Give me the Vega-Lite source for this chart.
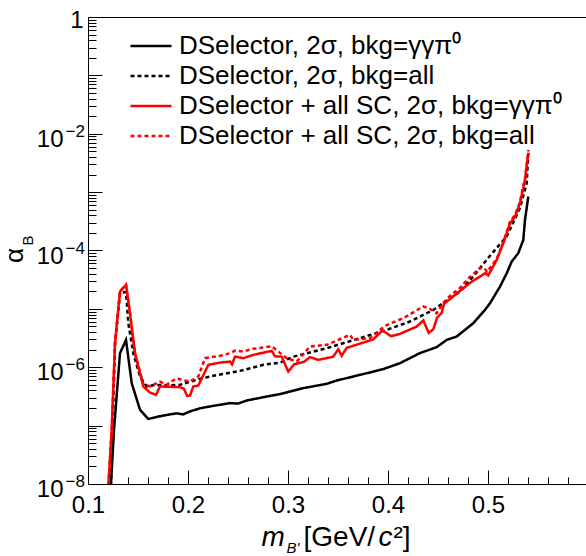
{
  "$schema": "https://vega.github.io/schema/vega-lite/v6.json",
  "width": 498,
  "height": 467,
  "autosize": {"type": "none"},
  "padding": {"left": 88, "top": 17, "right": 0, "bottom": 72},
  "background": "white",
  "config": {
    "view": {"stroke": null},
    "font": "Liberation Sans",
    "axis": {"labelFont": "Liberation Sans", "titleFont": "Liberation Sans", "labelColor": "black", "titleColor": "black", "domainColor": "black", "tickColor": "black", "grid": false, "domainWidth": 1, "tickWidth": 1, "titleFontWeight": "normal", "labelFlush": false, "labelOverlap": false}
  },
  "data": {"values": [
    {"s": "DSelector, 2σ, bkg=γγπ⁰", "m": 0.1215, "a": 3.6e-9},
    {"s": "DSelector, 2σ, bkg=γγπ⁰", "m": 0.126, "a": 8.5e-8},
    {"s": "DSelector, 2σ, bkg=γγπ⁰", "m": 0.132, "a": 1.74e-6},
    {"s": "DSelector, 2σ, bkg=γγπ⁰", "m": 0.138, "a": 2.94e-6},
    {"s": "DSelector, 2σ, bkg=γγπ⁰", "m": 0.1437, "a": 5.35e-7},
    {"s": "DSelector, 2σ, bkg=γγπ⁰", "m": 0.152, "a": 1.87e-7},
    {"s": "DSelector, 2σ, bkg=γγπ⁰", "m": 0.1603, "a": 1.3e-7},
    {"s": "DSelector, 2σ, bkg=γγπ⁰", "m": 0.1703, "a": 1.43e-7},
    {"s": "DSelector, 2σ, bkg=γγπ⁰", "m": 0.182, "a": 1.56e-7},
    {"s": "DSelector, 2σ, bkg=γγπ⁰", "m": 0.1887, "a": 1.62e-7},
    {"s": "DSelector, 2σ, bkg=γγπ⁰", "m": 0.1953, "a": 1.56e-7},
    {"s": "DSelector, 2σ, bkg=γγπ⁰", "m": 0.202, "a": 1.75e-7},
    {"s": "DSelector, 2σ, bkg=γγπ⁰", "m": 0.212, "a": 1.98e-7},
    {"s": "DSelector, 2σ, bkg=γγπ⁰", "m": 0.2253, "a": 2.18e-7},
    {"s": "DSelector, 2σ, bkg=γγπ⁰", "m": 0.242, "a": 2.43e-7},
    {"s": "DSelector, 2σ, bkg=γγπ⁰", "m": 0.25, "a": 2.38e-7},
    {"s": "DSelector, 2σ, bkg=γγπ⁰", "m": 0.2587, "a": 2.69e-7},
    {"s": "DSelector, 2σ, bkg=γγπ⁰", "m": 0.2787, "a": 3.15e-7},
    {"s": "DSelector, 2σ, bkg=γγπ⁰", "m": 0.292, "a": 3.47e-7},
    {"s": "DSelector, 2σ, bkg=γγπ⁰", "m": 0.3153, "a": 4.39e-7},
    {"s": "DSelector, 2σ, bkg=γγπ⁰", "m": 0.3387, "a": 5.2e-7},
    {"s": "DSelector, 2σ, bkg=γγπ⁰", "m": 0.3487, "a": 5.92e-7},
    {"s": "DSelector, 2σ, bkg=γγπ⁰", "m": 0.372, "a": 7.41e-7},
    {"s": "DSelector, 2σ, bkg=γγπ⁰", "m": 0.3953, "a": 9.29e-7},
    {"s": "DSelector, 2σ, bkg=γγπ⁰", "m": 0.412, "a": 1.175e-6},
    {"s": "DSelector, 2σ, bkg=γγπ⁰", "m": 0.432, "a": 1.75e-6},
    {"s": "DSelector, 2σ, bkg=γγπ⁰", "m": 0.4487, "a": 2.21e-6},
    {"s": "DSelector, 2σ, bkg=γγπ⁰", "m": 0.4587, "a": 2.94e-6},
    {"s": "DSelector, 2σ, bkg=γγπ⁰", "m": 0.4687, "a": 3.36e-6},
    {"s": "DSelector, 2σ, bkg=γγπ⁰", "m": 0.4853, "a": 5.69e-6},
    {"s": "DSelector, 2σ, bkg=γγπ⁰", "m": 0.497, "a": 9.6e-6},
    {"s": "DSelector, 2σ, bkg=γγπ⁰", "m": 0.502, "a": 1.25e-5},
    {"s": "DSelector, 2σ, bkg=γγπ⁰", "m": 0.512, "a": 2.41e-5},
    {"s": "DSelector, 2σ, bkg=γγπ⁰", "m": 0.5187, "a": 4.08e-5},
    {"s": "DSelector, 2σ, bkg=γγπ⁰", "m": 0.5237, "a": 6.45e-5},
    {"s": "DSelector, 2σ, bkg=γγπ⁰", "m": 0.5303, "a": 9.0e-5},
    {"s": "DSelector, 2σ, bkg=γγπ⁰", "m": 0.5353, "a": 1.52e-4},
    {"s": "DSelector, 2σ, bkg=γγπ⁰", "m": 0.537, "a": 3.34e-4},
    {"s": "DSelector, 2σ, bkg=γγπ⁰", "m": 0.5403, "a": 8.4e-4},

    {"s": "DSelector, 2σ, bkg=all", "m": 0.1225, "a": 5.4e-9},
    {"s": "DSelector, 2σ, bkg=all", "m": 0.127, "a": 2.42e-6},
    {"s": "DSelector, 2σ, bkg=all", "m": 0.132, "a": 1.88e-5},
    {"s": "DSelector, 2σ, bkg=all", "m": 0.138, "a": 1.95e-5},
    {"s": "DSelector, 2σ, bkg=all", "m": 0.1403, "a": 5.69e-6},
    {"s": "DSelector, 2σ, bkg=all", "m": 0.1453, "a": 1.74e-6},
    {"s": "DSelector, 2σ, bkg=all", "m": 0.152, "a": 6.93e-7},
    {"s": "DSelector, 2σ, bkg=all", "m": 0.1587, "a": 4.68e-7},
    {"s": "DSelector, 2σ, bkg=all", "m": 0.167, "a": 5.0e-7},
    {"s": "DSelector, 2σ, bkg=all", "m": 0.18, "a": 4.9e-7},
    {"s": "DSelector, 2σ, bkg=all", "m": 0.192, "a": 5.0e-7},
    {"s": "DSelector, 2σ, bkg=all", "m": 0.202, "a": 5.62e-7},
    {"s": "DSelector, 2σ, bkg=all", "m": 0.212, "a": 6.33e-7},
    {"s": "DSelector, 2σ, bkg=all", "m": 0.2253, "a": 7.13e-7},
    {"s": "DSelector, 2σ, bkg=all", "m": 0.252, "a": 8.67e-7},
    {"s": "DSelector, 2σ, bkg=all", "m": 0.2753, "a": 1.1e-6},
    {"s": "DSelector, 2σ, bkg=all", "m": 0.292, "a": 1.2e-6},
    {"s": "DSelector, 2σ, bkg=all", "m": 0.3053, "a": 1.52e-6},
    {"s": "DSelector, 2σ, bkg=all", "m": 0.3387, "a": 2.12e-6},
    {"s": "DSelector, 2σ, bkg=all", "m": 0.372, "a": 3.15e-6},
    {"s": "DSelector, 2σ, bkg=all", "m": 0.3987, "a": 4.37e-6},
    {"s": "DSelector, 2σ, bkg=all", "m": 0.422, "a": 6.07e-6},
    {"s": "DSelector, 2σ, bkg=all", "m": 0.4453, "a": 9.6e-6},
    {"s": "DSelector, 2σ, bkg=all", "m": 0.472, "a": 1.98e-5},
    {"s": "DSelector, 2σ, bkg=all", "m": 0.4853, "a": 3.6e-5},
    {"s": "DSelector, 2σ, bkg=all", "m": 0.495, "a": 5.8e-5},
    {"s": "DSelector, 2σ, bkg=all", "m": 0.5053, "a": 9.5e-5},
    {"s": "DSelector, 2σ, bkg=all", "m": 0.5187, "a": 1.73e-4},
    {"s": "DSelector, 2σ, bkg=all", "m": 0.532, "a": 5.36e-4},
    {"s": "DSelector, 2σ, bkg=all", "m": 0.5387, "a": 1.42e-3},
    {"s": "DSelector, 2σ, bkg=all", "m": 0.5405, "a": 5.3e-3},

    {"s": "DSelector + all SC, 2σ, bkg=γγπ⁰", "m": 0.1195, "a": 5.4e-9},
    {"s": "DSelector + all SC, 2σ, bkg=γγπ⁰", "m": 0.1237, "a": 8.5e-8},
    {"s": "DSelector + all SC, 2σ, bkg=γγπ⁰", "m": 0.127, "a": 2.59e-6},
    {"s": "DSelector + all SC, 2σ, bkg=γγπ⁰", "m": 0.132, "a": 1.98e-5},
    {"s": "DSelector + all SC, 2σ, bkg=γγπ⁰", "m": 0.138, "a": 2.58e-5},
    {"s": "DSelector + all SC, 2σ, bkg=γγπ⁰", "m": 0.142, "a": 8.4e-6},
    {"s": "DSelector + all SC, 2σ, bkg=γγπ⁰", "m": 0.147, "a": 1.74e-6},
    {"s": "DSelector + all SC, 2σ, bkg=γγπ⁰", "m": 0.1553, "a": 4.68e-7},
    {"s": "DSelector + all SC, 2σ, bkg=γγπ⁰", "m": 0.162, "a": 3.69e-7},
    {"s": "DSelector + all SC, 2σ, bkg=γγπ⁰", "m": 0.168, "a": 3.37e-7},
    {"s": "DSelector + all SC, 2σ, bkg=γγπ⁰", "m": 0.172, "a": 4.68e-7},
    {"s": "DSelector + all SC, 2σ, bkg=γγπ⁰", "m": 0.192, "a": 4.56e-7},
    {"s": "DSelector + all SC, 2σ, bkg=γγπ⁰", "m": 0.196, "a": 4.27e-7},
    {"s": "DSelector + all SC, 2σ, bkg=γγπ⁰", "m": 0.199, "a": 3.24e-7},
    {"s": "DSelector + all SC, 2σ, bkg=γγπ⁰", "m": 0.202, "a": 3.27e-7},
    {"s": "DSelector + all SC, 2σ, bkg=γγπ⁰", "m": 0.2053, "a": 4.68e-7},
    {"s": "DSelector + all SC, 2σ, bkg=γγπ⁰", "m": 0.2103, "a": 4.86e-7},
    {"s": "DSelector + all SC, 2σ, bkg=γγπ⁰", "m": 0.2203, "a": 1.1e-6},
    {"s": "DSelector + all SC, 2σ, bkg=γγπ⁰", "m": 0.232, "a": 1.2e-6},
    {"s": "DSelector + all SC, 2σ, bkg=γγπ⁰", "m": 0.242, "a": 1.25e-6},
    {"s": "DSelector + all SC, 2σ, bkg=γγπ⁰", "m": 0.244, "a": 1.12e-6},
    {"s": "DSelector + all SC, 2σ, bkg=γγπ⁰", "m": 0.247, "a": 1.52e-6},
    {"s": "DSelector + all SC, 2σ, bkg=γγπ⁰", "m": 0.2553, "a": 1.43e-6},
    {"s": "DSelector + all SC, 2σ, bkg=γγπ⁰", "m": 0.2653, "a": 1.63e-6},
    {"s": "DSelector + all SC, 2σ, bkg=γγπ⁰", "m": 0.2837, "a": 1.91e-6},
    {"s": "DSelector + all SC, 2σ, bkg=γγπ⁰", "m": 0.287, "a": 1.54e-6},
    {"s": "DSelector + all SC, 2σ, bkg=γγπ⁰", "m": 0.2937, "a": 1.52e-6},
    {"s": "DSelector + all SC, 2σ, bkg=γγπ⁰", "m": 0.3003, "a": 8.4e-7},
    {"s": "DSelector + all SC, 2σ, bkg=γγπ⁰", "m": 0.306, "a": 1.12e-6},
    {"s": "DSelector + all SC, 2σ, bkg=γγπ⁰", "m": 0.316, "a": 1.24e-6},
    {"s": "DSelector + all SC, 2σ, bkg=γγπ⁰", "m": 0.322, "a": 1.49e-6},
    {"s": "DSelector + all SC, 2σ, bkg=γγπ⁰", "m": 0.3303, "a": 1.34e-6},
    {"s": "DSelector + all SC, 2σ, bkg=γγπ⁰", "m": 0.345, "a": 1.51e-6},
    {"s": "DSelector + all SC, 2σ, bkg=γγπ⁰", "m": 0.3503, "a": 2.03e-6},
    {"s": "DSelector + all SC, 2σ, bkg=γγπ⁰", "m": 0.3537, "a": 1.57e-6},
    {"s": "DSelector + all SC, 2σ, bkg=γγπ⁰", "m": 0.3587, "a": 2.15e-6},
    {"s": "DSelector + all SC, 2σ, bkg=γγπ⁰", "m": 0.3853, "a": 3.0e-6},
    {"s": "DSelector + all SC, 2σ, bkg=γγπ⁰", "m": 0.3945, "a": 4.28e-6},
    {"s": "DSelector + all SC, 2σ, bkg=γγπ⁰", "m": 0.403, "a": 3.41e-6},
    {"s": "DSelector + all SC, 2σ, bkg=γγπ⁰", "m": 0.412, "a": 3.73e-6},
    {"s": "DSelector + all SC, 2σ, bkg=γγπ⁰", "m": 0.4287, "a": 4.98e-6},
    {"s": "DSelector + all SC, 2σ, bkg=γγπ⁰", "m": 0.4353, "a": 6.35e-6},
    {"s": "DSelector + all SC, 2σ, bkg=γγπ⁰", "m": 0.4407, "a": 3.88e-6},
    {"s": "DSelector + all SC, 2σ, bkg=γγπ⁰", "m": 0.4453, "a": 4.46e-6},
    {"s": "DSelector + all SC, 2σ, bkg=γγπ⁰", "m": 0.449, "a": 7.0e-6},
    {"s": "DSelector + all SC, 2σ, bkg=γγπ⁰", "m": 0.4537, "a": 8.55e-6},
    {"s": "DSelector + all SC, 2σ, bkg=γγπ⁰", "m": 0.456, "a": 1.22e-5},
    {"s": "DSelector + all SC, 2σ, bkg=γγπ⁰", "m": 0.472, "a": 2.03e-5},
    {"s": "DSelector + all SC, 2σ, bkg=γγπ⁰", "m": 0.4837, "a": 2.93e-5},
    {"s": "DSelector + all SC, 2σ, bkg=γγπ⁰", "m": 0.492, "a": 3.57e-5},
    {"s": "DSelector + all SC, 2σ, bkg=γγπ⁰", "m": 0.497, "a": 4.08e-5},
    {"s": "DSelector + all SC, 2σ, bkg=γγπ⁰", "m": 0.5003, "a": 3.75e-5},
    {"s": "DSelector + all SC, 2σ, bkg=γγπ⁰", "m": 0.5087, "a": 6.9e-5},
    {"s": "DSelector + all SC, 2σ, bkg=γγπ⁰", "m": 0.5153, "a": 1.33e-4},
    {"s": "DSelector + all SC, 2σ, bkg=γγπ⁰", "m": 0.522, "a": 2.93e-4},
    {"s": "DSelector + all SC, 2σ, bkg=γγπ⁰", "m": 0.527, "a": 3.8e-4},
    {"s": "DSelector + all SC, 2σ, bkg=γγπ⁰", "m": 0.532, "a": 6.45e-4},
    {"s": "DSelector + all SC, 2σ, bkg=γγπ⁰", "m": 0.537, "a": 1.62e-3},
    {"s": "DSelector + all SC, 2σ, bkg=γγπ⁰", "m": 0.5403, "a": 4.64e-3},

    {"s": "DSelector + all SC, 2σ, bkg=all", "m": 0.1195, "a": 5.4e-9},
    {"s": "DSelector + all SC, 2σ, bkg=all", "m": 0.1237, "a": 8.5e-8},
    {"s": "DSelector + all SC, 2σ, bkg=all", "m": 0.127, "a": 2.59e-6},
    {"s": "DSelector + all SC, 2σ, bkg=all", "m": 0.132, "a": 1.98e-5},
    {"s": "DSelector + all SC, 2σ, bkg=all", "m": 0.138, "a": 2.58e-5},
    {"s": "DSelector + all SC, 2σ, bkg=all", "m": 0.142, "a": 8.4e-6},
    {"s": "DSelector + all SC, 2σ, bkg=all", "m": 0.147, "a": 1.74e-6},
    {"s": "DSelector + all SC, 2σ, bkg=all", "m": 0.1553, "a": 5.2e-7},
    {"s": "DSelector + all SC, 2σ, bkg=all", "m": 0.162, "a": 4.68e-7},
    {"s": "DSelector + all SC, 2σ, bkg=all", "m": 0.172, "a": 5.69e-7},
    {"s": "DSelector + all SC, 2σ, bkg=all", "m": 0.1787, "a": 5.0e-7},
    {"s": "DSelector + all SC, 2σ, bkg=all", "m": 0.1887, "a": 6.5e-7},
    {"s": "DSelector + all SC, 2σ, bkg=all", "m": 0.1937, "a": 6.08e-7},
    {"s": "DSelector + all SC, 2σ, bkg=all", "m": 0.202, "a": 5.69e-7},
    {"s": "DSelector + all SC, 2σ, bkg=all", "m": 0.2103, "a": 6.93e-7},
    {"s": "DSelector + all SC, 2σ, bkg=all", "m": 0.217, "a": 1.43e-6},
    {"s": "DSelector + all SC, 2σ, bkg=all", "m": 0.232, "a": 1.57e-6},
    {"s": "DSelector + all SC, 2σ, bkg=all", "m": 0.242, "a": 1.74e-6},
    {"s": "DSelector + all SC, 2σ, bkg=all", "m": 0.247, "a": 1.93e-6},
    {"s": "DSelector + all SC, 2σ, bkg=all", "m": 0.2553, "a": 1.86e-6},
    {"s": "DSelector + all SC, 2σ, bkg=all", "m": 0.2653, "a": 2.07e-6},
    {"s": "DSelector + all SC, 2σ, bkg=all", "m": 0.2837, "a": 2.28e-6},
    {"s": "DSelector + all SC, 2σ, bkg=all", "m": 0.2903, "a": 1.86e-6},
    {"s": "DSelector + all SC, 2σ, bkg=all", "m": 0.2987, "a": 1.43e-6},
    {"s": "DSelector + all SC, 2σ, bkg=all", "m": 0.3087, "a": 1.25e-6},
    {"s": "DSelector + all SC, 2σ, bkg=all", "m": 0.322, "a": 2.26e-6},
    {"s": "DSelector + all SC, 2σ, bkg=all", "m": 0.3387, "a": 2.42e-6},
    {"s": "DSelector + all SC, 2σ, bkg=all", "m": 0.362, "a": 3.59e-6},
    {"s": "DSelector + all SC, 2σ, bkg=all", "m": 0.3653, "a": 2.94e-6},
    {"s": "DSelector + all SC, 2σ, bkg=all", "m": 0.382, "a": 3.15e-6},
    {"s": "DSelector + all SC, 2σ, bkg=all", "m": 0.397, "a": 5.12e-6},
    {"s": "DSelector + all SC, 2σ, bkg=all", "m": 0.4153, "a": 6.93e-6},
    {"s": "DSelector + all SC, 2σ, bkg=all", "m": 0.4353, "a": 1.1e-5},
    {"s": "DSelector + all SC, 2σ, bkg=all", "m": 0.442, "a": 1.0e-5},
    {"s": "DSelector + all SC, 2σ, bkg=all", "m": 0.4487, "a": 8.4e-6},
    {"s": "DSelector + all SC, 2σ, bkg=all", "m": 0.4553, "a": 1.27e-5},
    {"s": "DSelector + all SC, 2σ, bkg=all", "m": 0.462, "a": 1.67e-5},
    {"s": "DSelector + all SC, 2σ, bkg=all", "m": 0.472, "a": 2.29e-5},
    {"s": "DSelector + all SC, 2σ, bkg=all", "m": 0.482, "a": 3.53e-5},
    {"s": "DSelector + all SC, 2σ, bkg=all", "m": 0.492, "a": 4.98e-5},
    {"s": "DSelector + all SC, 2σ, bkg=all", "m": 0.496, "a": 5.1e-5},
    {"s": "DSelector + all SC, 2σ, bkg=all", "m": 0.499, "a": 4.3e-5},
    {"s": "DSelector + all SC, 2σ, bkg=all", "m": 0.5087, "a": 7.18e-5},
    {"s": "DSelector + all SC, 2σ, bkg=all", "m": 0.5153, "a": 1.4e-4},
    {"s": "DSelector + all SC, 2σ, bkg=all", "m": 0.522, "a": 3.09e-4},
    {"s": "DSelector + all SC, 2σ, bkg=all", "m": 0.527, "a": 4.07e-4},
    {"s": "DSelector + all SC, 2σ, bkg=all", "m": 0.532, "a": 6.8e-4},
    {"s": "DSelector + all SC, 2σ, bkg=all", "m": 0.537, "a": 1.75e-3},
    {"s": "DSelector + all SC, 2σ, bkg=all", "m": 0.5405, "a": 5.28e-3}
  ]},
  "layer": [
    {
      "mark": {"type": "line", "strokeWidth": 2.5, "clip": true},
      "encoding": {
        "x": {"field": "m", "type": "quantitative", "scale": {"domain": [0.1, 0.598], "nice": false, "zero": false},
          "axis": {"orient": "bottom", "values": [0.1, 0.2, 0.3, 0.4, 0.5], "format": ".1f", "tickSize": -14, "labelFontSize": 24, "labelPadding": 23,
            "title": "m", "titleFontSize": 28, "titleFontStyle": "italic", "titleX": 173, "titleY": 61, "titleAlign": "left", "titleBaseline": "alphabetic", "titleAngle": 0}},
        "y": {"field": "a", "type": "quantitative", "scale": {"type": "log", "domain": [1e-8, 1], "nice": false},
          "axis": {"orient": "left", "values": [1e-8, 1e-7, 1e-6, 1e-5, 1e-4, 1e-3, 1e-2, 1e-1, 1], "tickSize": -14,
            "labelExpr": "datum.value < 0.5 && round(log(datum.value)/LN10) % 2 == 0 ? '10' : ''",
            "labelFontSize": 24, "labelPadding": 39, "labelOffset": 5.5, "labelAlign": "right", "labelBaseline": "middle",
            "title": "α", "titleFontSize": 26, "titleAngle": -90, "titleX": -66, "titleY": 238, "titleAlign": "center", "titleBaseline": "alphabetic"}},
        "color": {"field": "s", "type": "nominal",
          "scale": {"domain": ["DSelector, 2σ, bkg=γγπ⁰", "DSelector, 2σ, bkg=all", "DSelector + all SC, 2σ, bkg=γγπ⁰", "DSelector + all SC, 2σ, bkg=all"], "range": ["#000000", "#000000", "#ff0000", "#ff0000"]},
          "legend": {"orient": "none", "legendX": 50, "legendY": 16, "title": null, "symbolType": "M-2,0H2", "symbolSize": 420, "symbolStrokeWidth": 2.5, "labelFontSize": 26, "labelFont": "Liberation Sans", "labelColor": "black", "labelLimit": 600, "labelOffset": 15, "rowPadding": 4, "padding": 0}},
        "strokeDash": {"field": "s", "type": "nominal",
          "scale": {"domain": ["DSelector, 2σ, bkg=γγπ⁰", "DSelector, 2σ, bkg=all", "DSelector + all SC, 2σ, bkg=γγπ⁰", "DSelector + all SC, 2σ, bkg=all"], "range": [[1, 0], [4, 3], [1, 0], [4, 3]]},
          "legend": {"orient": "none", "legendX": 50, "legendY": 16, "title": null, "symbolType": "M-2,0H2", "symbolSize": 420, "symbolStrokeWidth": 2.5, "labelFontSize": 26, "labelFont": "Liberation Sans", "labelColor": "black", "labelLimit": 600, "labelOffset": 15, "rowPadding": 4, "padding": 0}}
      }
    },
    {
      "mark": {"type": "point", "opacity": 0, "size": 1},
      "encoding": {
        "x": {"field": "m", "type": "quantitative", "scale": {"domain": [0.1, 0.598], "nice": false, "zero": false},
          "axis": {"orient": "bottom", "values": [0.12, 0.14, 0.16, 0.18, 0.22, 0.24, 0.26, 0.28, 0.32, 0.34, 0.36, 0.38, 0.42, 0.44, 0.46, 0.48, 0.52, 0.54, 0.56, 0.58], "tickSize": -7, "labels": false, "domain": false,
            "title": "B'", "titleFontSize": 15, "titleFontStyle": "italic", "titleX": 198, "titleY": 68, "titleAlign": "left", "titleBaseline": "alphabetic", "titleAngle": 0}},
        "y": {"field": "a", "type": "quantitative", "scale": {"type": "log", "domain": [1e-8, 1], "nice": false},
          "axis": {"orient": "left", "tickSize": -8, "labels": false, "domain": false,
            "values": [2e-8, 3e-8, 4e-8, 5e-8, 6e-8, 7e-8, 8e-8, 9e-8, 2e-7, 3e-7, 4e-7, 5e-7, 6e-7, 7e-7, 8e-7, 9e-7, 2e-6, 3e-6, 4e-6, 5e-6, 6e-6, 7e-6, 8e-6, 9e-6, 2e-5, 3e-5, 4e-5, 5e-5, 6e-5, 7e-5, 8e-5, 9e-5, 2e-4, 3e-4, 4e-4, 5e-4, 6e-4, 7e-4, 8e-4, 9e-4, 2e-3, 3e-3, 4e-3, 5e-3, 6e-3, 7e-3, 8e-3, 9e-3, 2e-2, 3e-2, 4e-2, 5e-2, 6e-2, 7e-2, 8e-2, 9e-2, 2e-1, 3e-1, 4e-1, 5e-1, 6e-1, 7e-1, 8e-1, 9e-1],
            "title": "B", "titleFontSize": 15, "titleAngle": -90, "titleX": -56, "titleY": 223, "titleAlign": "center", "titleBaseline": "alphabetic"}}
      }
    },
    {
      "mark": {"type": "point", "opacity": 0, "size": 1},
      "encoding": {
        "x": {"field": "m", "type": "quantitative", "scale": {"domain": [0.1, 0.598], "nice": false, "zero": false},
          "axis": {"orient": "bottom", "values": [], "ticks": false, "labels": false, "domain": false,
            "title": "[GeV/", "titleFontSize": 28, "titleX": 215, "titleY": 61, "titleAlign": "left", "titleBaseline": "alphabetic", "titleAngle": 0}},
        "y": {"field": "a", "type": "quantitative", "scale": {"type": "log", "domain": [1e-8, 1], "nice": false},
          "axis": {"orient": "left", "values": [1e-8, 1e-6, 1e-4, 1e-2], "ticks": false, "tickSize": 0, "domain": false,
            "labelExpr": "'−' + format(-round(log(datum.value)/LN10), 'd')", "labelFontSize": 17, "labelAlign": "left", "labelPadding": 23, "labelOffset": -2.5, "labelBaseline": "middle", "title": null}}
      }
    },
    {
      "mark": {"type": "point", "opacity": 0, "size": 1},
      "encoding": {
        "x": {"field": "m", "type": "quantitative", "scale": {"domain": [0.1, 0.598], "nice": false, "zero": false},
          "axis": {"orient": "bottom", "values": [], "ticks": false, "labels": false, "domain": false,
            "title": "c", "titleFontSize": 28, "titleFontStyle": "italic", "titleX": 290, "titleY": 61, "titleAlign": "left", "titleBaseline": "alphabetic", "titleAngle": 0}},
        "y": {"field": "a", "type": "quantitative", "scale": {"type": "log", "domain": [1e-8, 1], "nice": false},
          "axis": {"orient": "left", "values": [1], "ticks": false, "tickSize": 0, "domain": false,
            "labelExpr": "'1'", "labelFontSize": 24, "labelAlign": "right", "labelPadding": 5, "labelOffset": 3, "labelBaseline": "middle", "title": null}}
      }
    },
    {
      "mark": {"type": "point", "opacity": 0, "size": 1},
      "encoding": {
        "x": {"field": "m", "type": "quantitative", "scale": {"domain": [0.1, 0.598], "nice": false, "zero": false},
          "axis": {"orient": "top", "values": [], "ticks": false, "labels": false, "domain": true,
            "title": "²]", "titleFontSize": 28, "titleX": 305, "titleY": 528, "titleAlign": "left", "titleBaseline": "alphabetic", "titleAngle": 0}},
        "y": {"field": "a", "type": "quantitative", "scale": {"type": "log", "domain": [1e-8, 1], "nice": false}, "axis": null}
      }
    }
  ],
  "resolve": {"axis": {"x": "independent", "y": "independent"}}
}
